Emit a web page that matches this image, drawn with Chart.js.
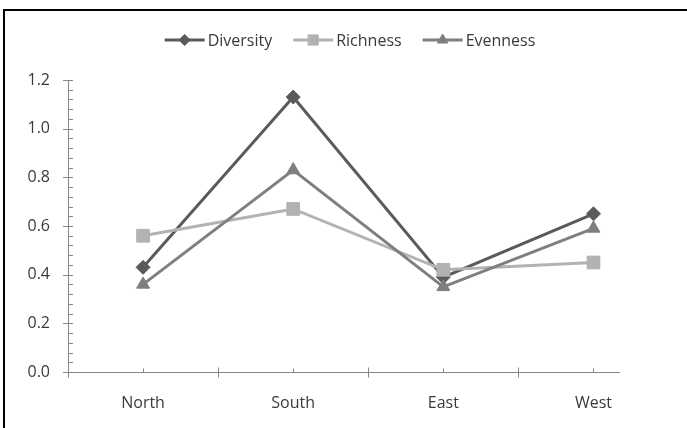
<!DOCTYPE html>
<html>
<head>
<meta charset="utf-8">
<script src="https://cdn.jsdelivr.net/npm/chart.js@4"></script>
<style>
  html, body { margin: 0; padding: 0; background: #fff; overflow: hidden; }
  #wrap { position: relative; width: 687px; height: 428px; }
  #frame { position: absolute; left: 3px; top: 9px; width: 800px; height: 600px; border: 2px solid #000; pointer-events: none; }
</style>
</head>
<body>
<div id="wrap">
  <canvas id="chart" width="687" height="428"></canvas>
  <div id="frame"></div>
</div>
<script>
const categories = ['North', 'South', 'East', 'West'];
const diversity = [0.43, 1.13, 0.39, 0.65];
const richness = [0.56, 0.67, 0.42, 0.45];
const evenness = [0.36, 0.83, 0.35, 0.59];
const yTicks = [0, 0.2, 0.4, 0.6, 0.8, 1.0, 1.2];

const FONT = '"Open Sans", sans-serif';
const TEXT = '#3a3a3a';
const AXIS = '#868686';

function points(values) {
  return values.map((v, i) => ({ x: i, y: v }));
}

// small tick marks like the spreadsheet axes
const axisMarks = {
  id: 'axisMarks',
  afterDraw(chart) {
    const { ctx, scales: { x, y } } = chart;
    ctx.save();
    ctx.strokeStyle = AXIS;
    ctx.lineWidth = 1;
    ctx.beginPath();
    for (let i = 0; i <= 30; i++) {
      const py = Math.round(y.getPixelForValue(i * 0.04)) + 0.5;
      const major = i % 5 === 0;
      ctx.moveTo(x.left - (major ? 5 : 0), py);
      ctx.lineTo(x.left + 5, py);
    }
    const by = Math.round(y.bottom) + 0.5;
    [-0.5, 0.5, 1.5, 2.5].forEach(v => {
      const px = Math.round(x.getPixelForValue(v)) + 0.5;
      ctx.moveTo(px, by - 5);
      ctx.lineTo(px, by + 5);
    });
    categories.forEach((c, i) => {
      const px = Math.round(x.getPixelForValue(i)) + 0.5;
      ctx.moveTo(px, by - 4);
      ctx.lineTo(px, by);
    });
    ctx.stroke();
    ctx.restore();
  }
};

// legend: short line with the marker on it, then the label
const lineLegend = {
  id: 'lineLegend',
  afterDraw(chart) {
    const ctx = chart.ctx;
    const sets = chart.data.datasets;
    ctx.save();
    ctx.font = '16px ' + FONT;
    ctx.textBaseline = 'middle';
    const lineLen = 40, gap = 3, spacing = 21;
    const widths = sets.map(d => lineLen + gap + ctx.measureText(d.label).width);
    const total = widths.reduce((a, b) => a + b, 0) + spacing * (sets.length - 1);
    let x = 350 - total / 2;
    const y = 40;
    sets.forEach((d, i) => {
      ctx.strokeStyle = d.borderColor;
      ctx.lineWidth = d.borderWidth;
      ctx.beginPath();
      ctx.moveTo(x, y);
      ctx.lineTo(x + lineLen, y);
      ctx.stroke();
      ctx.fillStyle = d.borderColor;
      ctx.lineWidth = 1;
      Chart.helpers.drawPoint(ctx, { pointStyle: d.pointStyle, radius: d.pointRadius * 0.8, rotation: 0, borderWidth: 1 }, x + lineLen / 2, y);
      ctx.fillStyle = TEXT;
      ctx.fillText(d.label, x + lineLen + gap, y + 1);
      x += widths[i] + spacing;
    });
    ctx.restore();
  }
};

function series(label, values, color, style, radius, order) {
  return {
    label: label,
    data: points(values),
    borderColor: color,
    backgroundColor: color,
    borderWidth: 3,
    pointStyle: style,
    pointRadius: radius,
    pointBackgroundColor: color,
    pointBorderColor: color,
    pointBorderWidth: 1,
    tension: 0,
    order: order
  };
}

const ctx = document.getElementById('chart').getContext('2d');
const chart = new Chart(ctx, {
  type: 'line',
  data: {
    datasets: [
      series('Diversity', diversity, '#5a5a5a', 'rectRot', 7, 3),
      series('Richness', richness, '#b2b2b2', 'rect', 9, 2),
      series('Evenness', evenness, '#7f7f7f', 'triangle', 7.5, 1)
    ]
  },
  options: {
    responsive: false,
    animation: false,
    layout: { padding: { top: 80, right: 68, left: 0, bottom: 0 } },
    plugins: {
      legend: { display: false },
      tooltip: { enabled: false }
    },
    scales: {
      x: {
        type: 'linear',
        min: -0.5,
        max: 3.17,
        afterBuildTicks: s => { s.ticks = categories.map((c, i) => ({ value: i })); },
        afterFit: s => { s.height = 56; },
        grid: { display: false, drawTicks: false },
        border: { display: true, color: AXIS, width: 1 },
        ticks: {
          autoSkip: false,
          maxRotation: 0,
          padding: 22,
          color: TEXT,
          font: { family: FONT, size: 16 },
          callback: v => categories[v] ?? ''
        }
      },
      y: {
        min: 0,
        max: 1.2,
        afterBuildTicks: s => { s.ticks = yTicks.map(v => ({ value: v })); },
        afterFit: s => { s.width = 68; },
        grid: { display: false, drawTicks: false },
        border: { display: true, color: AXIS, width: 1 },
        ticks: {
          padding: 18,
          color: TEXT,
          font: { family: FONT, size: 16 },
          callback: v => v.toFixed(1)
        }
      }
    }
  },
  plugins: [axisMarks, lineLegend]
});
</script>
</body>
</html>
